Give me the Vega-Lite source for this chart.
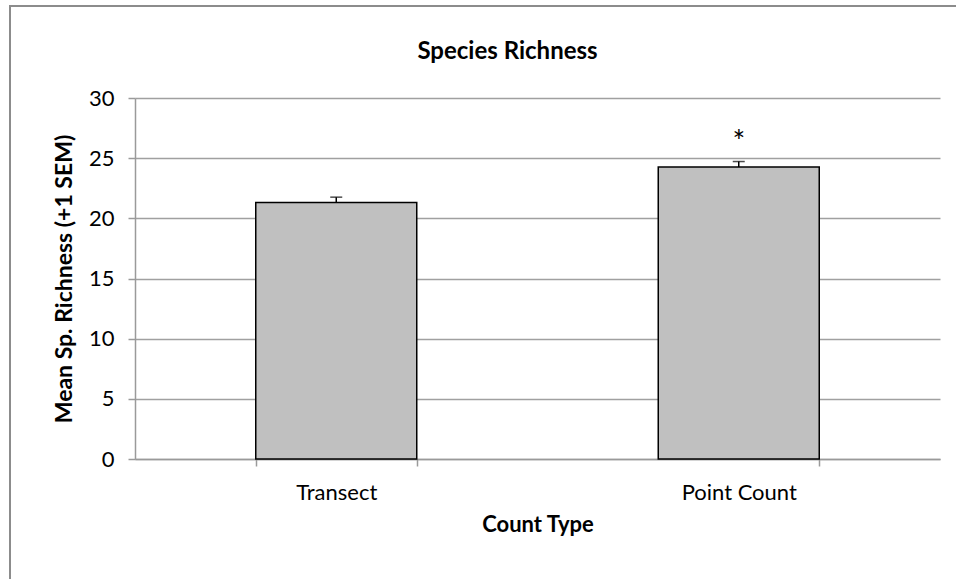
{
  "$schema": "https://vega.github.io/schema/vega-lite/v6.json",
  "width": 805,
  "height": 361,
  "autosize": {"type": "none"},
  "padding": {"left": 135, "top": 98, "right": 16, "bottom": 120},
  "background": "white",
  "config": {
    "view": {"stroke": null},
    "font": "Lato",
    "axis": {"labelFont": "Lato", "titleFont": "Lato", "labelColor": "black", "titleColor": "black"}
  },
  "title": {
    "text": "Species Richness",
    "font": "Lato",
    "fontSize": 24,
    "fontWeight": "bold",
    "color": "black",
    "anchor": "middle",
    "frame": "group",
    "dx": -30,
    "offset": -60
  },
  "data": {
    "values": [
      {"type": "Transect", "mean": 21.32, "upper": 21.76, "sig": ""},
      {"type": "Point Count", "mean": 24.26, "upper": 24.72, "sig": "*"}
    ]
  },
  "encoding": {
    "x": {
      "field": "type",
      "type": "nominal",
      "sort": ["Transect", "Point Count"],
      "scale": {"paddingInner": 0.6, "paddingOuter": 0.3},
      "axis": {
        "title": "Count Type",
        "titleFontSize": 22,
        "titleFontWeight": "bold",
        "titlePadding": 11,
        "labelFontSize": 22,
        "labelAngle": 0,
        "labelPadding": 16,
        "tickBand": "extent",
        "tickSize": 7,
        "tickColor": "#9a9a9a",
        "domainColor": "#9a9a9a",
        "domainWidth": 1.5,
        "tickWidth": 1.5
      }
    }
  },
  "layer": [
    {
      "mark": {"type": "bar", "fill": "#c0c0c0", "stroke": "black", "strokeWidth": 1.5},
      "encoding": {
        "y": {
          "field": "mean",
          "type": "quantitative",
          "scale": {"domain": [0, 30], "nice": false},
          "axis": {
            "title": "Mean Sp. Richness (+1 SEM)",
            "titleFontSize": 23,
            "titleFontWeight": "bold",
            "titlePadding": 12,
            "labelFontSize": 22,
            "labelPadding": 14,
            "values": [0, 5, 10, 15, 20, 25, 30],
            "grid": true,
            "gridColor": "#a0a0a0",
            "gridWidth": 1.5,
            "tickSize": 7,
            "tickColor": "#9a9a9a",
            "tickWidth": 1.5,
            "domainColor": "#9a9a9a",
            "domainWidth": 1.5
          }
        }
      }
    },
    {
      "mark": {"type": "rule", "color": "black", "strokeWidth": 1.5},
      "encoding": {
        "y": {"field": "mean", "type": "quantitative"},
        "y2": {"field": "upper"}
      }
    },
    {
      "mark": {"type": "tick", "color": "black", "size": 12, "thickness": 1.5},
      "encoding": {
        "y": {"field": "upper", "type": "quantitative"}
      }
    },
    {
      "mark": {"type": "text", "fontSize": 30, "font": "Lato", "color": "black", "baseline": "middle", "dy": 6},
      "encoding": {
        "y": {"datum": 26.8, "type": "quantitative"},
        "text": {"field": "sig"}
      }
    },
    {
      "data": {"values": [{"edge": "top"}]},
      "mark": {"type": "rule", "color": "#8c8c8c", "strokeWidth": 2},
      "encoding": {
        "x": {"value": -126},
        "x2": {"value": 821},
        "y": {"value": -92},
        "y2": {"value": -92}
      }
    },
    {
      "data": {"values": [{"edge": "left"}]},
      "mark": {"type": "rule", "color": "#8c8c8c", "strokeWidth": 2},
      "encoding": {
        "x": {"value": -125},
        "x2": {"value": -125},
        "y": {"value": -93},
        "y2": {"value": 481}
      }
    }
  ]
}
